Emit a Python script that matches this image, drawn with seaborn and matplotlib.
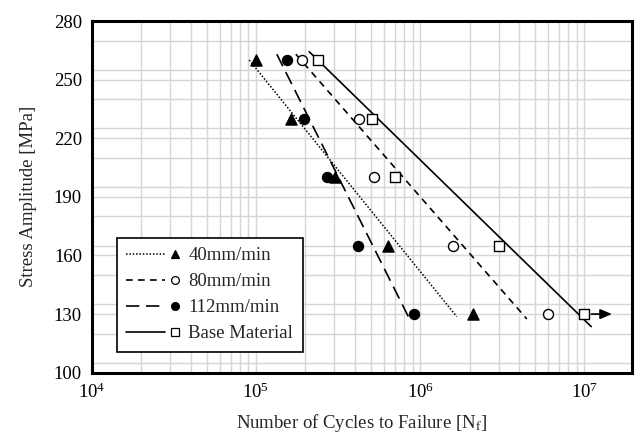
import matplotlib
matplotlib.use("Agg")
import matplotlib.pyplot as plt
import seaborn as sns
import numpy as np
import pandas as pd
from matplotlib.lines import Line2D
from matplotlib.legend_handler import HandlerBase
from matplotlib.ticker import MultipleLocator, LogLocator, NullFormatter

# ---------------- data ----------------
labels = ["40mm/min", "80mm/min", "112mm/min", "Base Material"]
stress_levels = [260, 230, 200, 165, 130]
cycles_40 = [1.0e5, 1.63e5, 3.03e5, 6.40e5, 2.09e6]
cycles_80 = [1.90e5, 4.26e5, 5.24e5, 1.58e6, 6.04e6]
cycles_112 = [1.54e5, 1.97e5, 2.70e5, 4.20e5, 9.18e5]
cycles_base = [2.40e5, 5.07e5, 7.03e5, 3.03e6, 1.0e7]

# fitted S-N lines (start / end points)
fit_n_40 = [9.1e4, 1.67e6]
fit_s_40 = [260.0, 128.7]
fit_n_80 = [1.75e5, 4.46e6]
fit_s_80 = [263.0, 127.5]
fit_n_112 = [1.34e5, 8.47e5]
fit_s_112 = [263.0, 128.7]
fit_n_base = [2.11e5, 1.10e7]
fit_s_base = [264.3, 123.6]

# run-out arrow
runout_n = [1.0e7, 1.47e7]
runout_s = [130, 130]

yticks = [100, 130, 160, 190, 220, 250, 280]

# ---------------- style ----------------
sns.set_style("white")
plt.rcParams["font.family"] = ["Liberation Serif", "DejaVu Serif"]
plt.rcParams["mathtext.fontset"] = "stix"
FS = 13.5

fig = plt.figure(figsize=(6.36, 4.36), dpi=100)
ax = fig.add_axes([0.1442, 0.1452, 0.849, 0.8066])

series = [
    (cycles_40, fit_n_40, fit_s_40, dict(marker="^", fc="black", ms=8.0),
     dict(linestyle=(0, (1, 1.2)), linewidth=1.1)),
    (cycles_80, fit_n_80, fit_s_80, dict(marker="o", fc="white", ms=7.2),
     dict(linestyle=(0, (4, 3.2)), linewidth=1.2)),
    (cycles_112, fit_n_112, fit_s_112, dict(marker="o", fc="black", ms=7.2),
     dict(linestyle=(0, (8, 4)), linewidth=1.2)),
    (cycles_base, fit_n_base, fit_s_base, dict(marker="s", fc="white", ms=7.0),
     dict(linestyle="-", linewidth=1.2)),
]

handles = []
for (cyc, fn, fs, mk, ln), lab in zip(series, labels):
    dfl = pd.DataFrame({"N": fn, "S": fs})
    sns.lineplot(data=dfl, x="N", y="S", ax=ax, color="black", legend=False,
                 zorder=3, **ln)
    dfp = pd.DataFrame({"N": cyc, "S": stress_levels})
    sns.scatterplot(data=dfp, x="N", y="S", ax=ax, marker=mk["marker"],
                    s=mk["ms"] ** 2, facecolor=mk["fc"], edgecolor="black",
                    linewidth=1.0, zorder=4, legend=False)
    lh = Line2D([], [], color="black", **ln)
    mh = Line2D([], [], color="black", linestyle="none", marker=mk["marker"],
                markerfacecolor=mk["fc"], markeredgecolor="black",
                markersize=mk["ms"] * 0.78, markeredgewidth=0.9)
    handles.append((lh, mh))

ax.annotate("", xy=(runout_n[1], runout_s[1]), xytext=(runout_n[0], runout_s[0]),
            arrowprops=dict(arrowstyle="-|>,head_length=0.7,head_width=0.3",
                            color="black", lw=1.2, shrinkA=5, shrinkB=0),
            zorder=5)

ax.set_xscale("log")
ax.set_xlim(1e4, 1.94e7)
ax.set_ylim(100, 280)
ax.set_yticks(yticks)
ax.yaxis.set_minor_locator(MultipleLocator(15))
ax.xaxis.set_minor_locator(LogLocator(base=10, subs=np.arange(2, 10)))
ax.xaxis.set_minor_formatter(NullFormatter())

ax.set_axisbelow(True)
ax.grid(which="both", color="#d6d6d6", linewidth=1.0)

for sp in ax.spines.values():
    sp.set_linewidth(2.2)
    sp.set_color("black")

ax.tick_params(which="major", direction="in", length=7.5, width=1.3,
               top=False, right=False, labelsize=FS, pad=7, colors="black")
ax.tick_params(which="minor", direction="in", length=3.5, width=1.0,
               top=False, right=False)

ax.set_xlabel(r"Number of Cycles to Failure [N$_\mathrm{f}$]", fontsize=FS, labelpad=7)
ax.set_ylabel("Stress Amplitude [MPa]", fontsize=FS, labelpad=12)


class LineThenMarker(HandlerBase):
    def create_artists(self, legend, orig_handle, xdescent, ydescent,
                       width, height, fontsize, trans):
        lh, mh = orig_handle
        y = height / 2.0 - ydescent
        x0 = -xdescent
        line = Line2D([x0, x0 + width * 0.70], [y, y])
        line.update_from(lh)
        line.set_transform(trans)
        mark = Line2D([x0 + width * 0.90], [y])
        mark.update_from(mh)
        mark.set_transform(trans)
        return [line, mark]


leg = ax.legend(handles, labels, handler_map={tuple: LineThenMarker()},
                loc="lower left", bbox_to_anchor=(0.047, 0.06),
                borderaxespad=0, fontsize=FS, frameon=True, fancybox=False,
                framealpha=1, edgecolor="black", handlelength=2.9,
                handletextpad=0.4, labelspacing=0.47, borderpad=0.5)
leg.get_frame().set_linewidth(1.2)

fig.savefig("out.png", dpi=100)
